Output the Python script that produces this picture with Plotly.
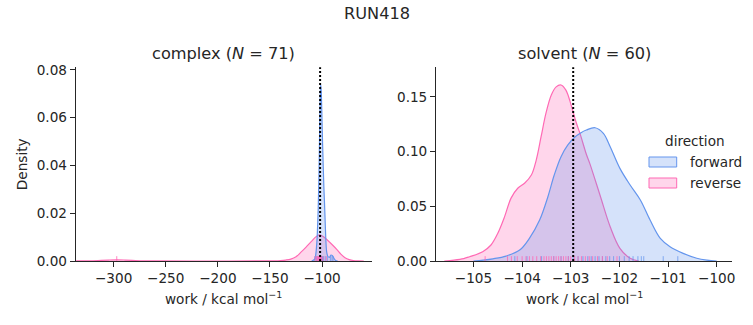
import plotly.graph_objects as go

# ---------------- data ----------------
# complex panel: KDE curves
cx_fwd_x = [-110, -107, -106, -105, -104, -103.5, -103, -102.5, -102, -101.6, -101.25, -100.8, -100.3,
            -99.7, -99, -98.3, -97.8, -97, -96.3, -95.5, -94.5, -93, -91.5, -90, -88.5, -87, -85]
cx_fwd_y = [0, 0.0008, 0.003, 0.008, 0.018, 0.026, 0.036, 0.05, 0.064, 0.0715, 0.0737, 0.071, 0.063,
            0.052, 0.041, 0.031, 0.0256, 0.016, 0.008, 0.0035, 0.002, 0.0015, 0.0025, 0.0022, 0.001, 0.0002, 0]
cx_rev_x = [-336, -325, -315, -305, -297, -289, -279, -269, -258, -200, -145, -140, -135, -130, -125, -120,
            -115, -110, -106, -102.6, -99, -95, -90, -86, -82, -78, -74, -70, -65, -60]
cx_rev_y = [0.00002, 0.00008, 0.0002, 0.0004, 0.0005, 0.0004, 0.0002, 0.00008, 0.00002, 0.0, 0.0001, 0.0002,
            0.0004, 0.0008, 0.0018, 0.0038, 0.006, 0.0083, 0.0101, 0.0109, 0.0103, 0.0088, 0.0067, 0.0049,
            0.0029, 0.0014, 0.0006, 0.0002, 0.00005, 0]
cx_rug_fwd = [-107, -105.5, -103, -102, -101.5, -101, -100.5, -100, -99.5, -98.5, -97, -95, -92, -90.5, -89.5]
cx_rug_rev = [-297, -106.5, -105, -104.5, -104, -103.5, -103, -102.5, -102, -101.5, -101, -100.5, -99, -96]
cx_ref = -101.9

# solvent panel
sv_fwd_x = [-105.0, -104.8, -104.6, -104.33, -104.05, -103.85, -103.64, -103.47, -103.34, -103.2, -103.06,
            -102.92, -102.79, -102.68, -102.5, -102.33, -102.19, -101.99, -101.78, -101.57, -101.37, -101.16,
            -100.96, -100.69, -100.41, -100.2, -100.0]
sv_fwd_y = [0, 0.0008, 0.002, 0.0045, 0.010, 0.0207, 0.0374, 0.0587, 0.0785, 0.0953, 0.106,
            0.113, 0.1172, 0.1196, 0.1217, 0.1166, 0.1044, 0.0846, 0.0694, 0.0557, 0.0374, 0.0207,
            0.0131, 0.007, 0.0025, 0.0008, 0]
sv_rev_x = [-105.6, -105.4, -105.2, -105.08, -104.81, -104.64, -104.5, -104.36, -104.23, -104.09, -103.95,
            -103.81, -103.71, -103.61, -103.51, -103.4, -103.3, -103.2, -103.1, -102.99, -102.89, -102.8,
            -102.68, -102.61, -102.4, -102.19, -101.99, -101.78, -101.6]
sv_rev_y = [0, 0.0008, 0.0022, 0.0039, 0.0085, 0.0146, 0.0253, 0.0405, 0.0572, 0.0664, 0.071,
            0.0785, 0.0922, 0.1135, 0.135, 0.1516, 0.159, 0.1607, 0.156, 0.142, 0.1267, 0.1150,
            0.0975, 0.0892, 0.0603, 0.0313, 0.0116, 0.0025, 0]
sv_rug_fwd = [-104.15, -103.9, -103.6, -103.35, -103.2, -103.05, -102.95, -102.85, -102.75, -102.65, -102.58,
              -102.5, -102.42, -102.35, -102.28, -102.2, -102.12, -102.0, -101.9, -101.8, -101.72, -101.62,
              -101.55, -101.5, -101.1, -100.8]
sv_rug_rev = [-104.76, -104.3, -104.22, -104.1, -104.0, -103.92, -103.85, -103.78, -103.7, -103.62, -103.55,
              -103.5, -103.45, -103.4, -103.35, -103.3, -103.25, -103.2, -103.15, -103.1, -103.05, -103.0,
              -102.92, -102.85, -102.78, -102.7, -102.62, -102.55, -102.45, -102.35, -102.25, -102.05]
sv_ref = -102.95

panel_titles = ["complex (<i>N</i> = 71)", "solvent (<i>N</i> = 60)"]
x_ticks_left = [-300, -250, -200, -150, -100]
x_ticks_right = [-105, -104, -103, -102, -101, -100]
y_ticks_left = [0.0, 0.02, 0.04, 0.06, 0.08]
y_ticks_right = [0.0, 0.05, 0.10, 0.15]
x_range_left = [-336.4, -52.4]
x_range_right = [-105.77, -99.68]
y_max_left = 0.0811
y_max_right = 0.1769

BLUE = "#6495ED"
PINK = "#FF69B4"
BLUE_F = "rgba(100,149,237,0.27)"
PINK_F = "rgba(255,105,180,0.27)"
TXT = "#262626"
FONT = "DejaVu Sans"
TICK_SIZE = 13.6
TITLE_SIZE = 16.2

W, H = 753, 325
fig = go.Figure()


def add_panel(xa, ya, fx, fy, rx, ry, rugf, rugr, ref, ymax):
    fig.add_trace(go.Scatter(x=rx, y=ry, mode="lines", line=dict(color=PINK, width=1.2, shape="spline", smoothing=1.0),
                             fill="tozeroy", fillcolor=PINK_F, xaxis=xa, yaxis=ya, showlegend=False, hoverinfo="skip"))
    fig.add_trace(go.Scatter(x=fx, y=fy, mode="lines", line=dict(color=BLUE, width=1.2, shape="spline", smoothing=1.0),
                             fill="tozeroy", fillcolor=BLUE_F, xaxis=xa, yaxis=ya, showlegend=False, hoverinfo="skip"))
    h = 0.025 * ymax
    for vals, col in ((rugf, "rgba(100,149,237,0.75)"), (rugr, "rgba(255,105,180,0.8)")):
        xs, ys = [], []
        for v in vals:
            xs += [v, v, None]
            ys += [0, h, None]
        fig.add_trace(go.Scatter(x=xs, y=ys, mode="lines", line=dict(color=col, width=1),
                                 xaxis=xa, yaxis=ya, showlegend=False, hoverinfo="skip"))
    fig.add_shape(type="line", xref=xa, yref=ya + " domain", x0=ref, x1=ref, y0=0, y1=1,
                  line=dict(color="black", width=2, dash="2px,2px"))


add_panel("x", "y", cx_fwd_x, cx_fwd_y, cx_rev_x, cx_rev_y, cx_rug_fwd, cx_rug_rev, cx_ref, y_max_left)
add_panel("x2", "y2", sv_fwd_x, sv_fwd_y, sv_rev_x, sv_rev_y, sv_rug_fwd, sv_rug_rev, sv_ref, y_max_right)

dom_left = [75.7 / W, 371.7 / W]
dom_right = [436 / W, 732.3 / W]
dom_y = [(H - 261) / H, (H - 67.3) / H]

axis_common = dict(showline=True, linecolor=TXT, linewidth=1, ticks="outside", ticklen=5, tickwidth=1,
                   tickcolor=TXT, showgrid=False, zeroline=False, mirror=False,
                   tickfont=dict(family=FONT, size=TICK_SIZE, color=TXT), automargin=False)

fig.update_layout(
    width=W, height=H, margin=dict(l=0, r=0, t=0, b=0),
    paper_bgcolor="white", plot_bgcolor="white", showlegend=False,
    xaxis=dict(domain=dom_left, range=x_range_left, tickvals=x_ticks_left, anchor="y", **axis_common),
    yaxis=dict(domain=dom_y, range=[0, y_max_left], tickvals=y_ticks_left, tickformat=".2f", anchor="x", **axis_common),
    xaxis2=dict(domain=dom_right, range=x_range_right, tickvals=x_ticks_right, anchor="y2", **axis_common),
    yaxis2=dict(domain=dom_y, range=[0, y_max_right], tickvals=y_ticks_right, tickformat=".2f", anchor="x2", **axis_common),
)

ann = []
ann.append(dict(text="RUN418", x=0.5, y=1 - 13 / H, xref="paper", yref="paper", showarrow=False,
                xanchor="center", yanchor="middle", font=dict(family=FONT, size=TITLE_SIZE, color=TXT)))
for t, d in zip(panel_titles, (dom_left, dom_right)):
    ann.append(dict(text=t, x=(d[0] + d[1]) / 2, y=1 - 54 / H, xref="paper", yref="paper", showarrow=False,
                    xanchor="center", yanchor="middle", font=dict(family=FONT, size=TITLE_SIZE, color=TXT)))
    ann.append(dict(text="work / kcal mol<sup>−1</sup>", x=(d[0] + d[1]) / 2, y=1 - 298 / H, xref="paper",
                    yref="paper", showarrow=False, xanchor="center", yanchor="middle",
                    font=dict(family=FONT, size=TICK_SIZE, color=TXT)))
ann.append(dict(text="Density", x=22 / W, y=(dom_y[0] + dom_y[1]) / 2, xref="paper", yref="paper",
                showarrow=False, textangle=-90, xanchor="center", yanchor="middle",
                font=dict(family=FONT, size=TICK_SIZE, color=TXT)))
# legend (manual)
ann.append(dict(text="direction", x=694.7 / W, y=1 - 141 / H, xref="paper", yref="paper", showarrow=False,
                xanchor="center", yanchor="middle", font=dict(family=FONT, size=TICK_SIZE, color=TXT)))
legend_items = [("forward", BLUE, BLUE_F, 162), ("reverse", PINK, PINK_F, 183)]
for name, lc, fc, yc in legend_items:
    fig.add_shape(type="rect", xref="paper", yref="paper", x0=649 / W, x1=676.7 / W,
                  y0=1 - (yc + 5) / H, y1=1 - (yc - 5) / H, line=dict(color=lc, width=1), fillcolor=fc)
    ann.append(dict(text=name, x=687.7 / W, y=1 - yc / H, xref="paper", yref="paper", showarrow=False,
                    xanchor="left", yanchor="middle", font=dict(family=FONT, size=TICK_SIZE, color=TXT)))
fig.update_layout(annotations=ann)

fig.write_html("out.html")
